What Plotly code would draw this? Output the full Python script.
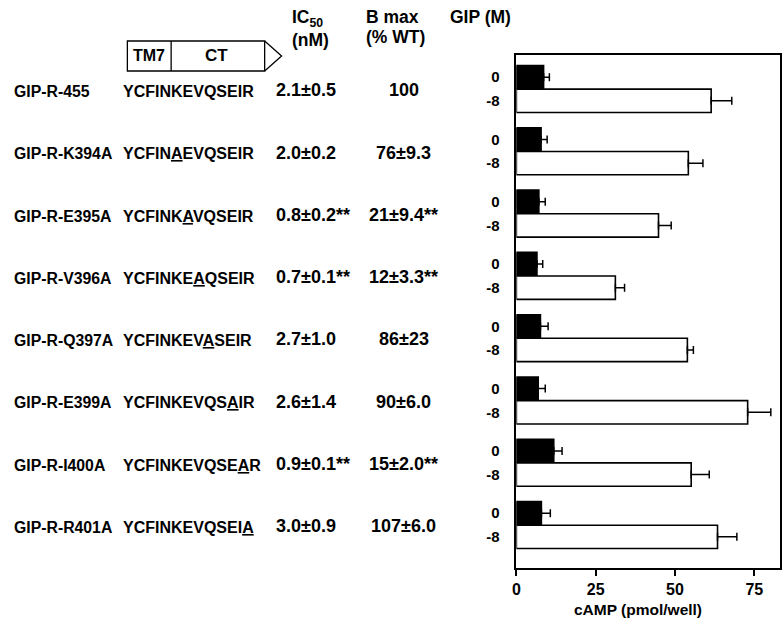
import plotly.graph_objects as go

# ---------------- data ----------------
constructs = ["GIP-R-455", "GIP-R-K394A", "GIP-R-E395A", "GIP-R-V396A",
              "GIP-R-Q397A", "GIP-R-E399A", "GIP-R-I400A", "GIP-R-R401A"]
sequences = ["YCFINKEVQSEIR", "YCFINAEVQSEIR", "YCFINKAVQSEIR", "YCFINKEAQSEIR",
             "YCFINKEVASEIR", "YCFINKEVQSAIR", "YCFINKEVQSEAR", "YCFINKEVQSEIA"]
ic50 = ["2.1±0.5", "2.0±0.2", "0.8±0.2**", "0.7±0.1**",
        "2.7±1.0", "2.6±1.4", "0.9±0.1**", "3.0±0.9"]
bmax = ["100", "76±9.3", "21±9.4**", "12±3.3**",
        "86±23", "90±6.0", "15±2.0**", "107±6.0"]
basal = [8.6, 7.8, 7.1, 6.5, 7.6, 6.9, 11.8, 7.9]          # GIP 0
basal_err = [1.8, 1.9, 2.0, 1.8, 2.4, 2.2, 2.6, 2.8]
stim = [61.4, 54.2, 44.8, 31.2, 53.9, 72.9, 55.1, 63.4]     # GIP 10^-8 M
stim_err = [6.5, 4.6, 4.0, 2.9, 1.9, 7.3, 5.7, 6.1]
gip_labels = ["0", "-8"]
x_ticks = [0, 25, 50, 75]

# ---------------- layout helpers ----------------
W, H = 783, 621
FONT = "Liberation Sans, Arial, Helvetica, sans-serif"
def px(x):
    return x / W
def py(y):
    return 1 - y / H

n = len(constructs)
OFF = 0.19
BW = 0.375
idx = list(range(n))
y_basal = [k - OFF for k in idx]
y_stim = [k + OFF for k in idx]

fig = go.Figure()
fig.add_trace(go.Bar(
    x=basal, y=y_basal, orientation="h", width=BW,
    marker=dict(color="black", line=dict(color="black", width=1.5)),
    error_x=dict(type="data", array=basal_err, arrayminus=[0] * n, symmetric=False,
                 color="black", thickness=1.5, width=4),
    showlegend=False))
fig.add_trace(go.Bar(
    x=stim, y=y_stim, orientation="h", width=BW,
    marker=dict(color="white", line=dict(color="black", width=1.6)),
    error_x=dict(type="data", array=stim_err, arrayminus=[0] * n, symmetric=False,
                 color="black", thickness=1.5, width=4),
    showlegend=False))

tickvals, ticktext = [], []
for k in idx:
    tickvals += [y_basal[k], y_stim[k]]
    ticktext += ["<b>%s</b>" % gip_labels[0], "<b>%s</b>" % gip_labels[1]]

fig.update_layout(
    width=W, height=H,
    margin=dict(l=0, r=0, t=0, b=0),
    paper_bgcolor="white", plot_bgcolor="white",
    barmode="overlay",
    font=dict(family=FONT, color="black", size=15),
    xaxis=dict(domain=[px(515), px(780)], range=[0, 83.1],
               tickvals=x_ticks, ticktext=["<b>%d</b>" % t for t in x_ticks],
               ticks="outside", ticklen=6, tickwidth=1.5, tickcolor="black",
               showline=True, linecolor="black", linewidth=1.5, mirror=True,
               showgrid=False, zeroline=False,
               tickfont=dict(size=16, family=FONT, color="black")),
    yaxis=dict(domain=[py(568), py(55)], range=[7.69, -0.546],
               tickvals=tickvals, ticktext=ticktext, ticks="",
               ticklabelstandoff=12,
               showline=True, linecolor="black", linewidth=1.5, mirror=True,
               showgrid=False, zeroline=False,
               tickfont=dict(size=15, family=FONT, color="black")),
)

ann = []
wt = sequences[0]
for k in idx:
    seq = "".join("<u>%s</u>" % c if c != w else c for c, w in zip(sequences[k], wt))
    ann.append(dict(x=px(8), y=k + 0.04, xref="paper", yref="y", xanchor="left", yanchor="middle",
                    text="<b>%s</b>" % constructs[k], showarrow=False, font=dict(size=15.8)))
    ann.append(dict(x=px(118), y=k + 0.04, xref="paper", yref="y", xanchor="left", yanchor="middle",
                    text="<b>%s</b>" % seq, showarrow=False, font=dict(size=16)))
    ann.append(dict(x=px(271), y=k + 0.02, xref="paper", yref="y", xanchor="left", yanchor="middle",
                    text="<b>%s</b>" % ic50[k], showarrow=False, font=dict(size=18)))
    ann.append(dict(x=px(402), y=k + 0.02, xref="paper", yref="y", xanchor="center", yanchor="middle",
                    text="<b>%s</b>" % bmax[k], showarrow=False, font=dict(size=18)))

# headers
hdr = [("<b>IC<sub>50</sub></b>", 287, 18), ("<b>(nM)</b>", 287, 40),
       ("<b>B max</b>", 362, 17), ("<b>(% WT)</b>", 362, 37),
       ("<b>GIP (M)</b>", 446, 17)]
for t, x, y in hdr:
    ann.append(dict(x=px(x), y=py(y), xref="paper", yref="paper", xanchor="left",
                    yanchor="middle", text=t, showarrow=False, font=dict(size=17.5)))
# axis title
ann.append(dict(x=px(637), y=py(609), xref="paper", yref="paper", xanchor="center",
                yanchor="middle", text="<b>cAMP (pmol/well)</b>", showarrow=False,
                font=dict(size=15.5)))
# diagram labels
ann.append(dict(x=px(146), y=py(56), xref="paper", yref="paper", xanchor="center",
                yanchor="middle", text="<b>TM7</b>", showarrow=False, font=dict(size=16)))
ann.append(dict(x=px(214), y=py(56), xref="paper", yref="paper", xanchor="center",
                yanchor="middle", text="<b>CT</b>", showarrow=False, font=dict(size=17)))
fig.update_layout(annotations=ann)

# TM7/CT diagram
shapes = [
    dict(type="rect", xref="paper", yref="paper", x0=px(124), x1=px(262), y0=py(71), y1=py(41),
         line=dict(color="black", width=1.3)),
    dict(type="line", xref="paper", yref="paper", x0=px(168), x1=px(168), y0=py(71), y1=py(41),
         line=dict(color="black", width=1.3)),
    dict(type="path", xref="paper", yref="paper",
         path="M %f,%f L %f,%f L %f,%f" % (px(262), py(41), px(279), py(56), px(262), py(71)),
         line=dict(color="black", width=1.3)),
]
fig.update_layout(shapes=shapes)

fig.write_html("out.html", config={"displayModeBar": False},
               post_script="document.body.style.margin='0px';document.body.style.overflow='hidden';")
